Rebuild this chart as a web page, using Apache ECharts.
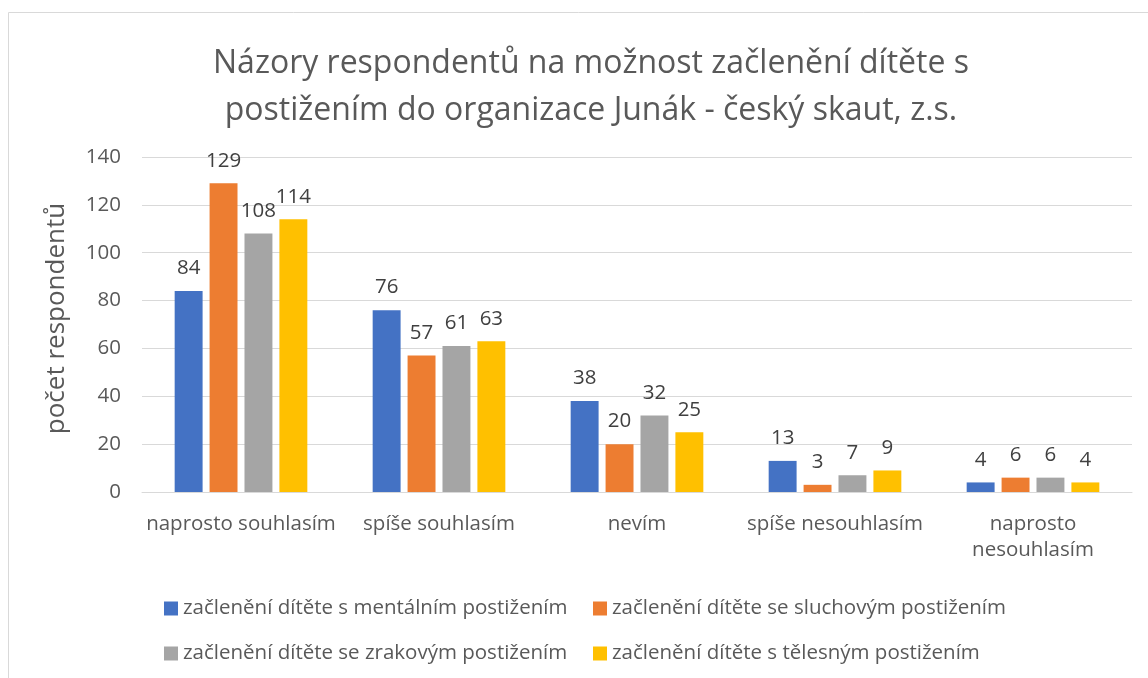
<!DOCTYPE html>
<html>
<head>
<meta charset="utf-8">
<script src="https://cdn.jsdelivr.net/npm/echarts@6/dist/echarts.min.js"></script>
<style>
  html, body { margin: 0; padding: 0; background: #fff; }
  #chart { width: 1148px; height: 678px; }
</style>
</head>
<body>
<div id="chart"></div>
<script>
var categories = ['naprosto souhlasím', 'spíše souhlasím', 'nevím', 'spíše nesouhlasím', 'naprosto\nnesouhlasím'];
var seriesNames = [
    'začlenění dítěte s mentálním postižením',
    'začlenění dítěte se sluchovým postižením',
    'začlenění dítěte se zrakovým postižením',
    'začlenění dítěte s tělesným postižením'
];
var mentalni = [84, 76, 38, 13, 4];
var sluchove = [129, 57, 20, 3, 6];
var zrakove = [108, 61, 32, 7, 6];
var telesne = [114, 63, 25, 9, 4];
var colors = ['#4472C4', '#ED7D31', '#A5A5A5', '#FFC000'];

var FONT = 'Open Sans';
var values = [mentalni, sluchove, zrakove, telesne];

var series = [];
for (var i = 0; i < values.length; i++) {
    series.push({
        name: seriesNames[i],
        type: 'bar',
        barGap: '25%',
        barCategoryGap: '33%',
        itemStyle: { color: colors[i] },
        label: {
            show: true,
            position: 'top',
            distance: 12,
            color: '#404040',
            fontFamily: FONT,
            fontSize: 20.5
        },
        data: values[i]
    });
}

// legenda ve dvou radcich, sloupce zarovnane jako v Excelu
var legendPos = [
    { left: 159, top: 593 },
    { left: 588, top: 593 },
    { left: 159, top: 638 },
    { left: 588, top: 638 }
];
var legends = legendPos.map(function (p, i) {
    return {
        left: p.left,
        top: p.top,
        data: [seriesNames[i]],
        icon: 'rect',
        itemWidth: 14,
        itemHeight: 14,
        itemGap: 5,
        selectedMode: false,
        textStyle: {
            color: '#595959',
            fontFamily: FONT,
            fontSize: 20.5
        }
    };
});

var option = {
    animation: false,
    color: colors,
    title: {
        text: 'Názory respondentů na možnost začlenění dítěte s\npostižením do organizace Junák - český skaut, z.s.',
        left: 586,
        top: 35,
        textAlign: 'center',
        textStyle: {
            color: '#595959',
            fontFamily: FONT,
            fontSize: 32,
            fontWeight: 'normal',
            lineHeight: 47
        }
    },
    graphic: [{
        type: 'rect',
        shape: { x: 8.5, y: 12.5, width: 1300, height: 800 },
        style: { fill: 'none', stroke: '#d9d9d9', lineWidth: 1 },
        silent: true
    }],
    legend: legends,
    grid: {
        left: 142,
        right: 16,
        top: 157,
        bottom: 186
    },
    xAxis: {
        type: 'category',
        data: categories,
        axisLine: { lineStyle: { color: '#d9d9d9', width: 1 } },
        axisTick: { show: false },
        axisLabel: {
            color: '#595959',
            fontFamily: FONT,
            fontSize: 20.5,
            margin: 19,
            lineHeight: 26,
            interval: 0
        }
    },
    yAxis: {
        type: 'value',
        min: 0,
        max: 140,
        interval: 20,
        name: 'počet respondentů',
        nameLocation: 'middle',
        nameGap: 72,
        nameTextStyle: {
            color: '#595959',
            fontFamily: FONT,
            fontSize: 26,
            padding: [0, 0, 0, 12]
        },
        axisLine: { show: false },
        axisTick: { show: false },
        splitLine: { lineStyle: { color: '#d9d9d9', width: 1 } },
        axisLabel: {
            color: '#595959',
            fontFamily: FONT,
            fontSize: 20.5,
            margin: 21
        }
    },
    series: series
};

var chart = echarts.init(document.getElementById('chart'));
chart.setOption(option);
</script>
</body>
</html>
